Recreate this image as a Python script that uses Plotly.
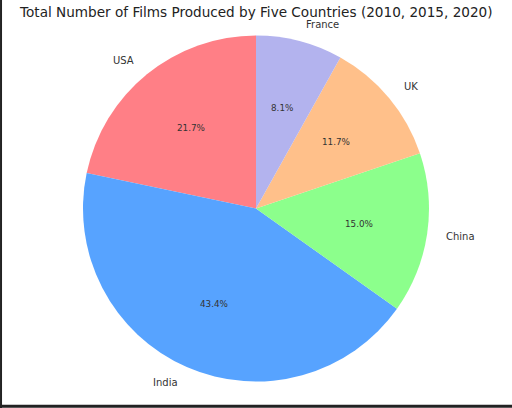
import math
import plotly.graph_objects as go

countries = ["USA", "India", "China", "UK", "France"]
shares = [21.7, 43.4, 15.0, 11.7, 8.1]
colors = ["#ff7f86", "#57a3ff", "#8cff8c", "#ffc08a", "#b3b3ee"]
title = "Total Number of Films Produced by Five Countries (2010, 2015, 2020)"

W, H = 512, 408
cx, cy, r = 256, 208.5, 173

total = sum(shares)

fig = go.Figure(go.Pie(
    labels=countries, values=shares, marker=dict(colors=colors, line=dict(width=0)),
    sort=False, direction="counterclockwise", rotation=-360.0 * shares[0] / total,
    textinfo="none", hoverinfo="label+percent", showlegend=False,
    domain=dict(x=[(cx - r) / W, (cx + r) / W], y=[(H - cy - r) / H, (H - cy + r) / H]),
))

ang = 90.0
annotations = []
for name, v in zip(countries, shares):
    span = 360.0 * v / total
    mid = math.radians(ang + span / 2)
    ang += span
    c, s = math.cos(mid), math.sin(mid)
    # outer label at 1.1 r
    lx, ly = cx + 1.1 * r * c, cy - 1.1 * r * s
    annotations.append(dict(
        x=lx / W, y=(H - ly) / H, xref="paper", yref="paper", text=name, showarrow=False,
        xanchor="left" if c > 0 else "right", yanchor="middle",
        font=dict(family="DejaVu Sans", size=10, color="#333333")))
    # percentage at 0.6 r
    px, py = cx + 0.6 * r * c, cy - 0.6 * r * s
    annotations.append(dict(
        x=px / W, y=(H - py) / H, xref="paper", yref="paper", text=f"{100 * v / total:.1f}%",
        showarrow=False, xanchor="center", yanchor="middle",
        font=dict(family="DejaVu Sans", size=8.8, color="#333333")))

annotations.append(dict(
    x=0.5, y=(H - 12) / H, xref="paper", yref="paper", text=title, showarrow=False,
    xanchor="center", yanchor="middle",
    font=dict(family="DejaVu Sans", size=13.6, color="#222222")))

fig.update_layout(
    width=W, height=H, margin=dict(l=0, r=0, t=0, b=0),
    paper_bgcolor="white", plot_bgcolor="white",
    annotations=annotations,
    shapes=[
        dict(type="line", xref="paper", yref="paper", x0=0.002, x1=0.002, y0=0, y1=1,
             line=dict(color="#222222", width=2)),
        dict(type="line", xref="paper", yref="paper", x0=0, x1=1, y0=0.004, y1=0.004,
             line=dict(color="#222222", width=3)),
    ],
)

fig.write_html("out.html", config={"displayModeBar": False},
               post_script="document.body.style.margin='0';document.body.style.padding='0';")
